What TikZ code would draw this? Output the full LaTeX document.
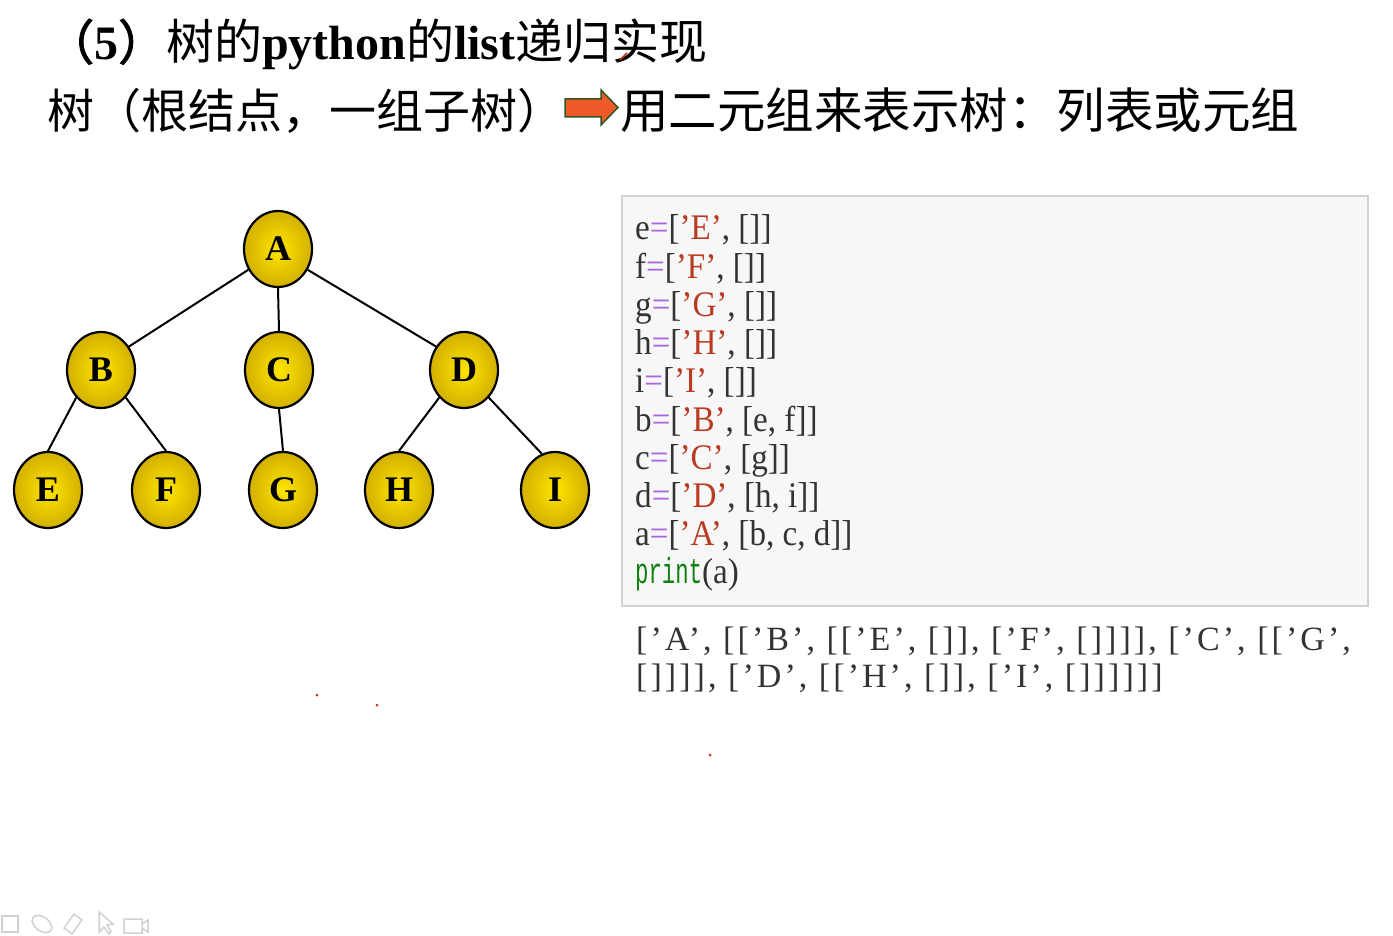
\documentclass[tikz,border=0pt]{standalone}
\usepackage{fontspec}
\setmainfont{Liberation Serif}
\newfontfamily\cjk{Noto Sans CJK SC}
\newfontfamily\cjkbf[FakeBold=2]{Noto Sans CJK SC}
\newfontfamily\codefont[FakeStretch=0.92]{Liberation Serif}
\newfontfamily\kwfont[FakeStretch=0.62]{Liberation Mono}
\newfontfamily\outfont[LetterSpace=9]{Liberation Serif}
\usetikzlibrary{positioning}
\usetikzlibrary{shapes}
\definecolor{nodein}{HTML}{FFE600}
\definecolor{nodeout}{HTML}{D2B000}
\definecolor{opcol}{HTML}{AA66DD}
\definecolor{strcol}{HTML}{BA3A21}
\definecolor{kwcol}{HTML}{108010}
\definecolor{txtcol}{HTML}{333333}
\definecolor{boxfill}{HTML}{F7F7F7}
\definecolor{boxline}{HTML}{D2D2D2}
\definecolor{arrfill}{HTML}{EE5A2A}
\definecolor{arrline}{HTML}{2F5520}
\definecolor{dotcol}{HTML}{C83214}
\newcommand{\eqop}{\textcolor{opcol}{=}}
\newcommand{\pystr}[1]{\textcolor{strcol}{’#1’}}
\tikzset{
v/.style={
  ellipse,
  inner sep=0pt,
  minimum width=68pt,
  minimum height=76pt,
  draw=black,
  line width=2.2pt,
  shade,
  inner color=nodein,
  outer color=nodeout,
  font=\fontsize{36}{36}\selectfont\bfseries
  },
codeline/.style={
  anchor=base west,
  inner sep=0pt,
  text=txtcol,
  font=\codefont\fontsize{36}{36}\selectfont
  },
outline/.style={
  anchor=base west,
  inner sep=0pt,
  text=txtcol,
  font=\outfont\fontsize{34}{34}\selectfont
  },
icon/.style={draw=black!18,line width=1.5pt}
}
\begin{document}
\begin{tikzpicture}[x=1pt,y=-1pt,edg/.style={line width=2pt}]
    \useasboundingbox (0,0) rectangle (1393,936);
    % title lines
    \node[anchor=base west,inner sep=0pt,font=\fontsize{48}{48}\selectfont] (ttl) at (46,60)
      {{\cjkbf （}{\bfseries 5}{\cjkbf ）}{\cjk 树的}{\bfseries python}{\cjk 的}{\bfseries list}{\cjk 递归实现}};
    \node[anchor=base west,inner sep=0pt,font=\cjk\fontsize{47}{47}\selectfont] (sub) at (47,129) {树（根结点，一组子树）};
    \node[anchor=base west,inner sep=0pt,font=\cjk\fontsize{48.5}{48.5}\selectfont] (rep) at (620,129) {用二元组来表示树：列表或元组};
    \filldraw[fill=arrfill,draw=arrline,line width=1.5pt]
      (565,99) -- (601,99) -- (601,90) -- (618,107.5) -- (601,125) -- (601,117) -- (565,117) -- cycle;
    % tree
    \node[v] (A) at (278,249) {A};
    \node[v] (B) at (101,370) {B};
    \node[v] (C) at (279,370) {C};
    \node[v] (D) at (464,370) {D};
    \node[v] (E) at (48,490) {E};
    \node[v] (F) at (166,490) {F};
    \node[v] (G) at (283,490) {G};
    \node[v] (H) at (399,490) {H};
    \node[v] (I) at (555,490) {I};
    \path[edg]
    (A.215) edge (B.40)
    (A.south) edge (C.north)
    (A.-35) edge (D.140)
    (B.south west) edge (E.north)
    (B.south east) edge (F.north)
    (C.south) edge (G.north)
    (D.south west) edge (H.north)
    (D.south east) edge (I.110)
    ;
    % code cell
    \filldraw[fill=boxfill,draw=boxline,line width=2pt] (622,196) rectangle (1368,606);
    \node[codeline] (le) at (635,240) {e\eqop[\pystr{E}, []]};
    \node[codeline] (lf) at (635,278.2) {f\eqop[\pystr{F}, []]};
    \node[codeline] (lg) at (635,316.4) {g\eqop[\pystr{G}, []]};
    \node[codeline] (lh) at (635,354.6) {h\eqop[\pystr{H}, []]};
    \node[codeline] (li) at (635,392.8) {i\eqop[\pystr{I}, []]};
    \node[codeline] (lb) at (635,431) {b\eqop[\pystr{B}, [e, f]]};
    \node[codeline] (lc) at (635,469.2) {c\eqop[\pystr{C}, [g]]};
    \node[codeline] (ld) at (635,507.4) {d\eqop[\pystr{D}, [h, i]]};
    \node[codeline] (la) at (635,545.6) {a\eqop[\pystr{A}, [b, c, d]]};
    \node[codeline] (lp) at (635,583.8) {\textcolor{kwcol}{\kwfont\fontsize{36}{36}\selectfont print}(a)};
    % printed result
    \node[outline] (o1) at (636,650) {[’A’, [[’B’, [[’E’, []], [’F’, []]]], [’C’, [[’G’,};
    \node[outline] (o2) at (636,687) {[]]]], [’D’, [[’H’, []], [’I’, []]]]]]};
    % pen marks
    \draw[dotcol,line width=1.5pt] (620,60) -- (627,53);
    \fill[dotcol] (317,695) circle (1.5) (377,705) circle (1.5) (710,755) circle (1.5);
    % toolbar
    \draw[icon] (2,916) rectangle (18,932);
    \draw[icon,rotate around={-35:(42,924)}] (42,924) ellipse (11 and 7);
    \draw[icon] (64,928) -- (74,914) -- (82,920) -- (72,934) -- cycle;
    \draw[icon] (99,912) -- (99,932) -- (104,927) -- (109,934) -- (111,932) -- (107,925) -- (113,924) -- cycle;
    \draw[icon] (124,919) rectangle (142,933) (142,924) -- (148,920) -- (148,932) -- (142,928);
\end{tikzpicture}
\end{document}
